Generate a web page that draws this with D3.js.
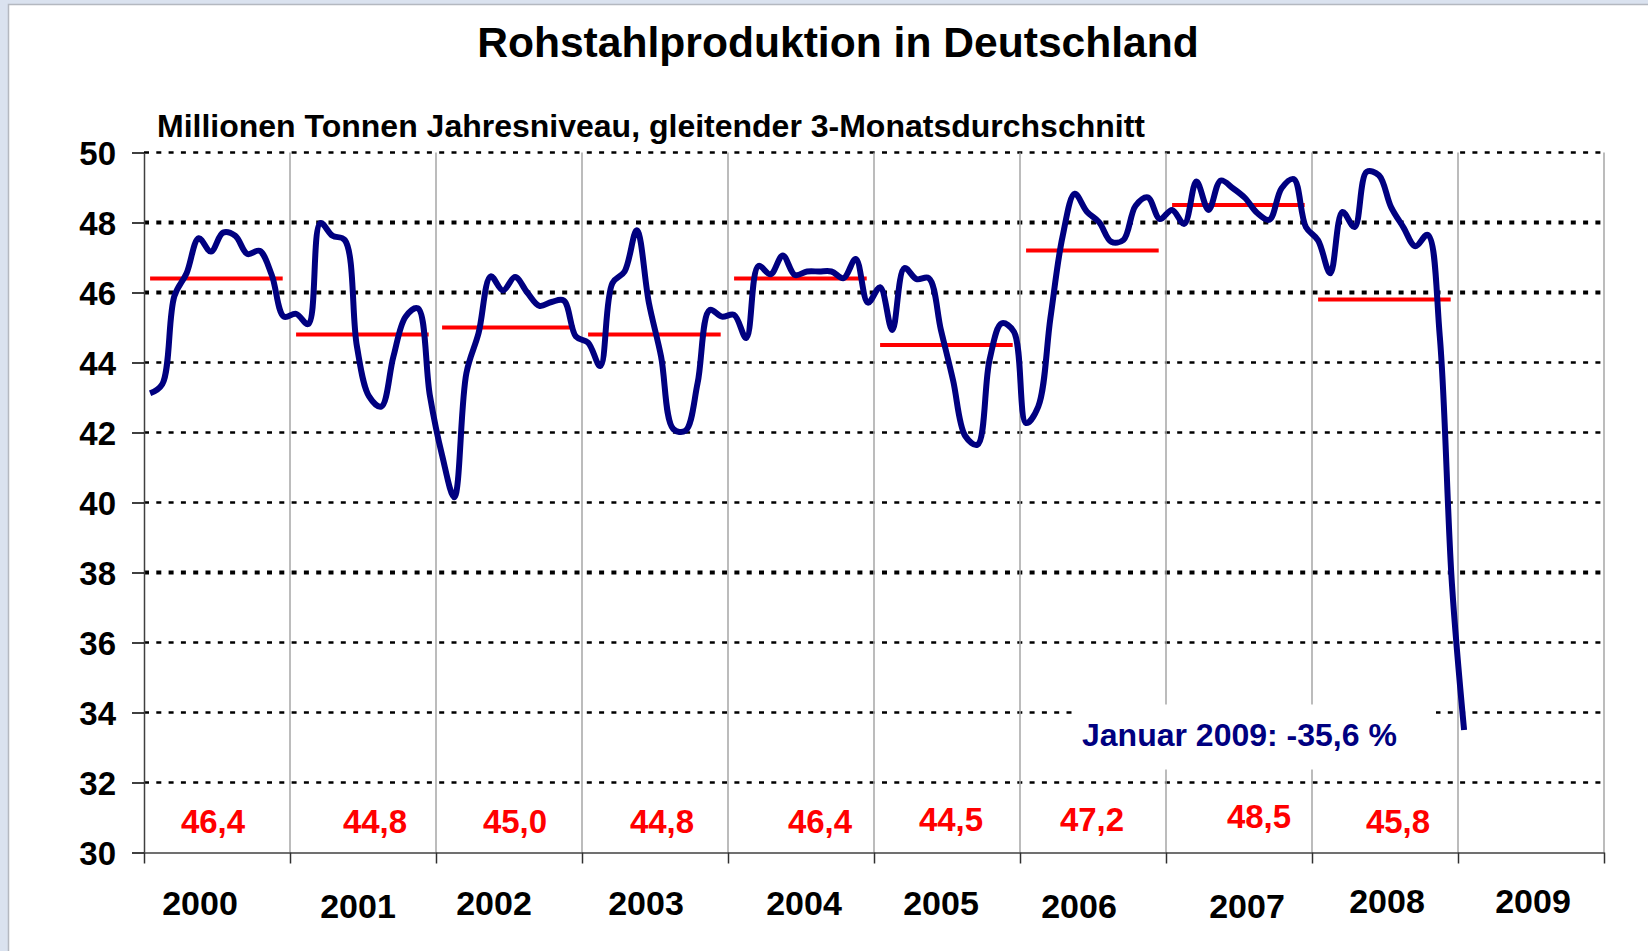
<!DOCTYPE html>
<html>
<head>
<meta charset="utf-8">
<script src="https://cdnjs.cloudflare.com/ajax/libs/d3/7.8.5/d3.min.js"></script>
<style>
  body { margin: 0; background: #ffffff; }
  svg text { font-family: "Liberation Sans", Arial, sans-serif; font-weight: bold; }
</style>
</head>
<body>
<div id="chart"></div>
<script>
// Chart data
// ==============================
var years = [2000, 2001, 2002, 2003, 2004, 2005, 2006, 2007, 2008, 2009];
var yTicks = [30, 32, 34, 36, 38, 40, 42, 44, 46, 48, 50];

// yearly averages (red bars + labels)
var avgYears = [2000, 2001, 2002, 2003, 2004, 2005, 2006, 2007, 2008];
var avgValues = [46.4, 44.8, 45.0, 44.8, 46.4, 44.5, 47.2, 48.5, 45.8];

// monthly values, 3-month moving average (Jan..Dec)
var prod2000 = [43.12, 43.38, 45.90, 46.55, 47.55, 47.17, 47.71, 47.62, 47.10, 47.19, 46.50, 45.31];
var prod2001 = [45.39, 45.10, 47.98, 47.62, 47.50, 44.46, 43.03, 42.74, 44.17, 45.31, 45.55, 43.05];
var prod2002 = [41.35, 40.15, 43.70, 44.84, 46.46, 46.06, 46.44, 46.00, 45.62, 45.73, 45.77, 44.74];
var prod2003 = [44.57, 43.90, 46.27, 46.60, 47.78, 45.70, 44.17, 42.10, 42.05, 43.41, 45.50, 45.31];
var prod2004 = [45.36, 44.70, 46.76, 46.52, 47.06, 46.50, 46.60, 46.60, 46.60, 46.41, 46.96, 45.71];
var prod2005 = [46.15, 44.93, 46.70, 46.38, 46.41, 44.93, 43.49, 41.90, 41.65, 44.08, 45.12, 44.88];
var prod2006 = [42.27, 42.74, 45.27, 47.60, 48.82, 48.31, 48.01, 47.45, 47.50, 48.48, 48.72, 48.10];
var prod2007 = [48.36, 47.96, 49.17, 48.36, 49.20, 48.98, 48.70, 48.27, 48.08, 48.98, 49.24, 47.87];
var prod2008 = [47.49, 46.55, 48.30, 47.87, 49.45, 49.35, 48.44, 47.87, 47.32, 47.65, 44.76, 37.68];
var prod2009 = [33.50];

var titleText = "Rohstahlproduktion in Deutschland";
var subtitleText = "Millionen Tonnen Jahresniveau, gleitender 3-Monatsdurchschnitt";
var noteText = "Januar 2009: -35,6 %";

// Layout
// ==============================
var svgWidth = 1648;
var svgHeight = 951;

var margin = { top: 152.5, right: 44, bottom: 98.5, left: 144 };
var width = svgWidth - margin.left - margin.right;
var height = svgHeight - margin.top - margin.bottom;

// small hand placements of the text boxes in the original
var yearNudge = [-17, -5, -15, -9, 3, -6, -14, 8, 2, 2];
var yearDrop = [0, 3, 0, 0, 0, 0, 3, 3, -2, -2];
var avgNudge = [-4, 12, 6, 7, 19, 4, -1, 20, 13];
var avgDrop = [0, 0, 0, 0, 0, -2, -2, -5, 0];
var boldGrid = [38, 46, 48];

var svg = d3.select("#chart")
  .append("svg")
  .attr("width", svgWidth)
  .attr("height", svgHeight);

// page background + white panel
svg.append("rect")
  .attr("width", svgWidth)
  .attr("height", svgHeight)
  .attr("fill", "#dae2ef");

svg.append("rect")
  .attr("x", 8.5)
  .attr("y", 4.5)
  .attr("width", svgWidth)
  .attr("height", svgHeight)
  .attr("fill", "#ffffff")
  .attr("stroke", "#b4b8c0")
  .attr("stroke-width", 1.5);

var chartGroup = svg.append("g")
  .attr("transform", `translate(${margin.left}, ${margin.top})`);

// Scales
// ==============================
var xScale = d3.scaleLinear()
  .domain([2000, 2010])
  .range([0, width]);

var yScale = d3.scaleLinear()
  .domain([30, 50])
  .range([height, 0]);

// Grid lines
// ==============================
chartGroup.selectAll(".hgrid")
  .data(yTicks.filter(d => d > 30))
  .enter()
  .append("line")
  .classed("hgrid", true)
  .attr("x1", 0)
  .attr("x2", width)
  .attr("y1", d => yScale(d))
  .attr("y2", d => yScale(d))
  .attr("stroke", "#000")
  .attr("stroke-width", d => boldGrid.indexOf(d) >= 0 ? 4 : 2.3)
  .attr("stroke-dasharray", "5,7.3");

chartGroup.selectAll(".vgrid")
  .data(d3.range(2001, 2011))
  .enter()
  .append("line")
  .classed("vgrid", true)
  .attr("x1", d => xScale(d))
  .attr("x2", d => xScale(d))
  .attr("y1", 0)
  .attr("y2", height)
  .attr("stroke", "#a6a6a6")
  .attr("stroke-width", 1.5);

// Axes
// ==============================
var leftAxis = d3.axisLeft(yScale)
  .tickValues(yTicks)
  .tickSize(12)
  .tickSizeOuter(0)
  .tickPadding(16);

var yAxis = chartGroup.append("g").call(leftAxis);
yAxis.select(".domain").attr("stroke", "#404040").attr("stroke-width", 1.5);
yAxis.selectAll(".tick line").attr("stroke", "#000").attr("stroke-width", 1.5);
yAxis.selectAll(".tick text")
  .attr("font-size", 33)
  .attr("fill", "#000")
  .attr("dy", "0.35em");

var bottomAxis = d3.axisBottom(xScale)
  .tickValues(d3.range(2000, 2011))
  .tickSize(11)
  .tickSizeOuter(0)
  .tickFormat("");

var xAxis = chartGroup.append("g")
  .attr("transform", `translate(0, ${height})`)
  .call(bottomAxis);
xAxis.select(".domain").attr("stroke", "#707070").attr("stroke-width", 2);
xAxis.selectAll(".tick line").attr("stroke", "#303030").attr("stroke-width", 1.5);

// year labels
chartGroup.selectAll(".yearLabel")
  .data(years)
  .enter()
  .append("text")
  .classed("yearLabel", true)
  .attr("x", (d, i) => xScale(d + 0.5) + yearNudge[i])
  .attr("y", (d, i) => height + 62 + yearDrop[i])
  .attr("text-anchor", "middle")
  .attr("font-size", 34)
  .attr("fill", "#000")
  .text(d => d);

// Yearly averages
// ==============================
var deFormat = d3.formatLocale({ decimal: ",", thousands: ".", grouping: [3], currency: ["", " €"] }).format(".1f");

chartGroup.selectAll(".avgLine")
  .data(avgYears)
  .enter()
  .append("line")
  .classed("avgLine", true)
  .attr("x1", d => xScale(d + 0.5 / 12))
  .attr("x2", d => xScale(d + 11.4 / 12))
  .attr("y1", (d, i) => yScale(avgValues[i]))
  .attr("y2", (d, i) => yScale(avgValues[i]))
  .attr("stroke", "#ff0000")
  .attr("stroke-width", 4);

chartGroup.selectAll(".avgLabel")
  .data(avgYears)
  .enter()
  .append("text")
  .classed("avgLabel", true)
  .attr("x", (d, i) => xScale(d + 0.5) + avgNudge[i])
  .attr("y", (d, i) => yScale(30) - 20 + avgDrop[i])
  .attr("text-anchor", "middle")
  .attr("font-size", 33)
  .attr("fill", "#ff0000")
  .text((d, i) => deFormat(avgValues[i]));

// Monthly production line
// ==============================
var allValues = [].concat(prod2000, prod2001, prod2002, prod2003, prod2004,
  prod2005, prod2006, prod2007, prod2008, prod2009);

var monthly = allValues.map(function(v, i) {
  return { t: 2000 + (i + 0.5) / 12, v: v };
});

var line = d3.line()
  .x(d => xScale(d.t))
  .y(d => yScale(d.v))
  .curve(d3.curveCatmullRom.alpha(0.5));

chartGroup.append("path")
  .datum(monthly)
  .attr("d", line)
  .attr("fill", "none")
  .attr("stroke", "#000080")
  .attr("stroke-width", 6)
  .attr("stroke-linejoin", "round");

// Note box
// ==============================
var noteX = xScale(2006) + 62;
var noteY = yScale(34) + 33;

chartGroup.append("rect")
  .attr("x", noteX - 8)
  .attr("y", noteY - 41)
  .attr("width", 362)
  .attr("height", 65)
  .attr("fill", "#ffffff");

chartGroup.append("text")
  .attr("x", noteX)
  .attr("y", noteY)
  .attr("font-size", 32)
  .attr("fill", "#000080")
  .text(noteText);

// Titles
// ==============================
svg.append("text")
  .attr("x", 838)
  .attr("y", 57)
  .attr("text-anchor", "middle")
  .attr("font-size", 42.6)
  .attr("fill", "#000")
  .text(titleText);

svg.append("text")
  .attr("x", 157)
  .attr("y", 137)
  .attr("font-size", 32)
  .attr("fill", "#000")
  .text(subtitleText);
</script>
</body>
</html>
